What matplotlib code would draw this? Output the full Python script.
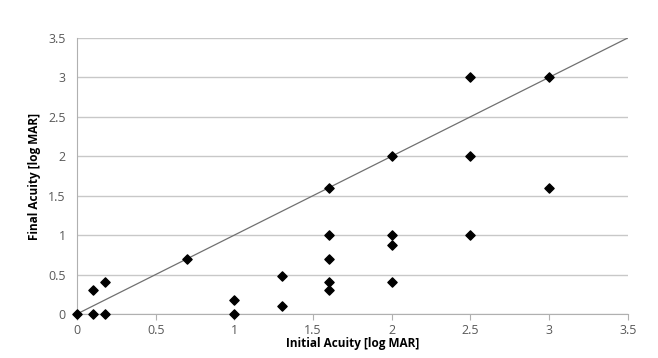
import matplotlib
matplotlib.use('Agg')
import matplotlib.pyplot as plt

# initial / final acuity [log MAR]
initial = [0, 0.1, 0.1, 0.18, 0.18, 0.7, 1, 1, 1.3, 1.3,
           1.6, 1.6, 1.6, 1.6, 1.6, 2, 2, 2, 2, 2.5, 2.5, 2.5, 3, 3]
final = [0, 0.3, 0, 0.4, 0, 0.7, 0.18, 0, 0.48, 0.1,
         1.6, 1.0, 0.7, 0.4, 0.3, 2, 1, 0.88, 0.4, 3, 2, 1, 3, 1.6]
diag = [0, 3.5]
ticks = [0, 0.5, 1, 1.5, 2, 2.5, 3, 3.5]
tick_labels = ['0', '0.5', '1', '1.5', '2', '2.5', '3', '3.5']

plt.rcParams['font.family'] = ['Open Sans', 'DejaVu Sans']

fig = plt.figure(figsize=(6.58, 3.58), dpi=100)
ax = fig.add_axes([0.117, 0.123, 0.837, 0.771])

ax.plot(diag, diag, color='#707070', linewidth=0.9, zorder=2)
ax.scatter(initial, final, marker='D', s=22, color='black', zorder=3,
           clip_on=False)

ax.set_xlim(0, 3.5)
ax.set_ylim(0, 3.5)
ax.set_xticks(ticks)
ax.set_xticklabels(tick_labels)
ax.set_yticks(ticks)
ax.set_yticklabels(tick_labels)
ax.yaxis.grid(True, color='#c8c8c8', linewidth=1.0)
ax.set_axisbelow(True)

for s in ['top', 'right']:
    ax.spines[s].set_visible(False)
for s in ['left', 'bottom']:
    ax.spines[s].set_color('#b0b0b0')
ax.tick_params(axis='x', direction='out', length=4, color='#b0b0b0',
               labelsize=9, labelcolor='#595959', pad=3)
ax.tick_params(axis='y', length=0, labelsize=9, labelcolor='#595959', pad=8)

ax.set_xlabel('Initial Acuity [log MAR]', fontsize=8.5, fontweight='bold',
              labelpad=0)
ax.set_ylabel('Final Acuity [log MAR]', fontsize=8.5, fontweight='bold',
              labelpad=5)

fig.savefig('out.png', dpi=100)
